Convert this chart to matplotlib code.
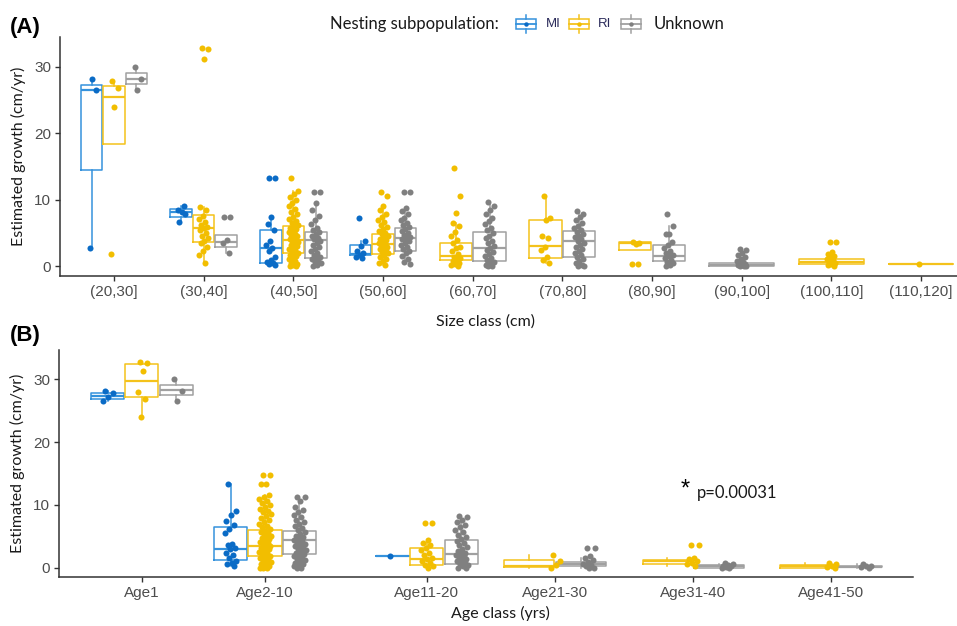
import numpy as np
import matplotlib.pyplot as plt
from matplotlib.patches import Rectangle

# ---- panel A: growth by size class ----
size_cats = ['(20,30]', '(30,40]', '(40,50]', '(50,60]', '(60,70]',
             '(70,80]', '(80,90]', '(90,100]', '(100,110]', '(110,120]']

a_mi_pts = [
    [2.7, 26.5, 28.2],
    [6.7, 7.8, 8.2, 8.5, 9.1],
    [13.2, 13.2, 7.4, 6.4, 5.4, 3.7, 3.2, 2.7, 2.2, 1.4, 0.9, 0.6, 0.4, 0.3, 0.2],
    [7.2, 3.7, 3.0, 2.2, 1.9, 1.6, 1.4, 1.2],
    [], [], [], [], [], [],
]
a_ri_pts = [
    [27.9, 26.8, 24.0, 1.8],
    [32.9, 32.7, 31.2, 8.9, 8.5, 7.6, 7.1, 6.6, 6.2, 5.9, 5.7, 5.4, 5.0, 4.6, 4.2,
     3.8, 3.4, 2.9, 2.3, 1.7, 0.4],
    [13.2, 11.3, 10.9, 10.4, 9.9, 9.5, 9.0, 8.6, 8.2, 7.8, 7.4, 7.1, 6.8, 6.5, 6.2,
     6.0, 5.8, 5.6, 5.3, 5.1, 4.9, 4.7, 4.5, 4.3, 4.1, 3.9, 3.8, 3.6, 3.4, 3.2, 3.0,
     2.8, 2.6, 2.4, 2.2, 2.0, 1.9, 1.7, 1.5, 1.2, 1.0, 0.8, 0.5, 0.3, 0.1, 0.0, 0.0],
    [11.2, 10.6, 9.0, 8.4, 7.9, 7.4, 7.0, 6.6, 6.2, 5.9, 5.6, 5.3, 5.0, 4.8, 4.6,
     4.3, 4.1, 3.9, 3.7, 3.5, 3.3, 3.1, 2.9, 2.7, 2.5, 2.3, 2.1, 1.9, 1.7, 1.4, 1.1,
     0.8, 0.5, 0.2],
    [14.7, 10.5, 8.0, 6.5, 6.0, 5.2, 4.6, 3.9, 3.5, 2.9, 2.7, 2.3, 1.8, 1.4, 1.2,
     1.0, 0.7, 0.5, 0.3, 0.1, 0.0],
    [10.55, 7.2, 7.0, 4.5, 4.2, 2.9, 2.4, 1.4, 0.9, 0.4],
    [3.6, 3.4, 3.3, 0.3, 0.3],
    [],
    [3.6, 3.6, 2.1, 1.8, 1.5, 1.3, 1.1, 0.9, 0.7, 0.5, 0.3, 0.1, 0.0],
    [0.3],
]
a_unk_pts = [
    [30.0, 28.2, 26.5],
    [7.4, 7.4, 3.9, 3.4, 2.0],
    [11.2, 11.2, 9.5, 8.4, 7.6, 6.9, 6.3, 5.8, 5.4, 5.1, 4.8, 4.5, 4.2, 4.0, 3.8,
     3.5, 3.2, 2.9, 2.6, 2.3, 2.0, 1.7, 1.4, 1.2, 1.0, 0.8, 0.6, 0.4, 0.2, 0.0],
    [11.2, 11.2, 8.8, 8.3, 7.8, 7.3, 6.9, 6.5, 6.2, 5.9, 5.6, 5.3, 5.0, 4.7, 4.4,
     4.2, 4.0, 3.7, 3.4, 3.1, 2.8, 2.5, 2.2, 1.9, 1.5, 1.0, 0.6, 0.3],
    [9.6, 9.1, 8.5, 7.9, 7.3, 6.8, 6.3, 5.8, 5.4, 5.0, 4.6, 4.2, 3.8, 3.4, 3.0,
     2.7, 2.4, 2.1, 1.8, 1.5, 1.2, 0.9, 0.6, 0.4, 0.2, 0.0, 0.0],
    [8.3, 7.9, 7.4, 6.9, 6.5, 6.1, 5.8, 5.5, 5.2, 4.9, 4.6, 4.3, 4.0, 3.7, 3.4,
     3.1, 2.8, 2.5, 2.2, 1.9, 1.6, 1.3, 1.0, 0.7, 0.4, 0.2, 0.0, 0.0],
    [7.9, 6.1, 4.8, 4.8, 3.6, 3.1, 2.7, 2.3, 2.0, 1.7, 1.5, 1.2, 0.9, 0.6, 0.4,
     0.2, 0.0],
    [2.5, 2.4, 2.0, 1.6, 1.3, 1.0, 0.8, 0.6, 0.4, 0.3, 0.2, 0.1, 0.0, 0.0, 0.0],
    [], [],
]

# box stats: (lower whisker, q1, median, q3, upper whisker)
a_mi_box = [(2.7, 14.5, 26.5, 27.3, 28.2), (6.7, 7.4, 8.2, 8.6, 9.1),
            (0.2, 0.5, 2.7, 5.4, 7.4), (1.2, 1.6, 1.8, 3.2, 3.7),
            None, None, None, None, None, None]
a_ri_box = [(18.4, 18.4, 25.5, 27.1, 27.9), (0.4, 3.6, 5.7, 7.7, 8.9),
            (0.0, 1.9, 3.9, 6.0, 11.3), (0.2, 1.8, 3.3, 4.8, 9.0),
            (0.0, 0.9, 1.5, 3.4, 6.5), (0.4, 1.15, 3.0, 7.0, 10.55),
            (2.4, 2.4, 3.4, 3.6, 3.6), None,
            (0.0, 0.25, 0.65, 1.05, 2.1), (0.3, 0.3, 0.3, 0.3, 0.3)]
a_unk_box = [(26.5, 27.4, 28.2, 29.1, 30.0), (2.0, 2.8, 3.6, 4.7, 4.7),
             (0.0, 1.2, 3.9, 5.1, 9.5), (0.3, 2.3, 4.2, 5.8, 8.8),
             (0.0, 0.75, 2.7, 5.1, 9.6), (0.0, 1.4, 3.8, 5.3, 8.3),
             (0.0, 0.75, 1.55, 3.1, 6.1), (0.0, 0.05, 0.2, 0.45, 1.0),
             None, None]

# ---- panel B: growth by age class ----
age_cats = ['Age1', 'Age2-10', 'Age11-20', 'Age21-30', 'Age31-40', 'Age41-50']

b_mi_pts = [
    [28.2, 27.8, 27.2, 26.5],
    [13.3, 9.1, 8.4, 7.4, 6.8, 6.1, 5.5, 3.8, 3.6, 3.1, 2.9, 2.4, 2.0, 1.5, 1.1,
     0.8, 0.5, 0.3],
    [1.9],
    [], [], [],
]
b_ri_pts = [
    [32.8, 32.7, 31.3, 28.0, 26.9, 24.0],
    [14.8, 14.8, 13.3, 13.3, 11.5, 11.2, 10.9, 10.6, 10.3, 10.0, 9.7, 9.4, 9.1,
     8.8, 8.5, 8.2, 7.9, 7.6, 7.3, 7.0, 6.7, 6.4, 6.1, 5.9, 5.7, 5.5, 5.3, 5.1,
     4.9, 4.7, 4.5, 4.3, 4.1, 3.9, 3.7, 3.5, 3.3, 3.1, 2.9, 2.7, 2.5, 2.3, 2.1,
     1.9, 1.7, 1.5, 1.3, 1.1, 0.9, 0.7, 0.5, 0.3, 0.1, 0.0, 0.0, 0.0],
    [7.1, 7.1, 4.4, 4.0, 3.6, 3.2, 2.8, 2.4, 2.0, 1.6, 1.3, 1.0, 0.7, 0.4, 0.2, 0.0],
    [2.0, 1.1, 0.4, 0.0],
    [3.6, 3.6, 1.6, 1.3, 1.0, 0.8, 0.5, 0.2],
    [0.7, 0.5, 0.3, 0.1, 0.0],
]
b_unk_pts = [
    [30.0, 28.2, 26.6],
    [11.2, 11.2, 10.6, 9.6, 9.2, 8.8, 8.4, 8.0, 7.6, 7.2, 6.9, 6.6, 6.3, 6.0, 5.7,
     5.4, 5.1, 4.8, 4.6, 4.4, 4.2, 4.0, 3.8, 3.6, 3.4, 3.2, 3.0, 2.8, 2.6, 2.4,
     2.2, 2.0, 1.8, 1.6, 1.4, 1.2, 1.0, 0.8, 0.6, 0.4, 0.2, 0.0, 0.0],
    [8.3, 8.0, 7.6, 7.2, 6.8, 6.4, 6.0, 5.6, 5.2, 4.8, 4.5, 4.2, 3.9, 3.6, 3.3,
     3.0, 2.7, 2.4, 2.2, 2.0, 1.8, 1.6, 1.4, 1.2, 1.0, 0.8, 0.6, 0.4, 0.2, 0.0, 0.0],
    [3.1, 3.1, 1.9, 1.6, 1.2, 0.9, 0.6, 0.4, 0.2, 0.0, 0.0],
    [0.7, 0.5, 0.4, 0.3, 0.2, 0.1, 0.0, 0.0],
    [0.5, 0.3, 0.2, 0.1, 0.0],
]

b_mi_box = [(26.5, 26.9, 27.4, 27.9, 28.2), (0.3, 1.2, 3.0, 6.55, 13.3),
            (1.9, 1.9, 1.9, 1.9, 1.9), None, None, None]
b_ri_box = [(24.0, 27.2, 29.7, 32.5, 32.8), (0.0, 1.9, 3.5, 6.0, 11.5),
            (0.0, 0.4, 1.3, 3.1, 4.4), (0.0, 0.16, 0.25, 1.2, 2.0),
            (0.2, 0.5, 1.1, 1.2, 1.6), (0.0, 0.0, 0.2, 0.45, 0.7)]
b_unk_box = [(26.6, 27.5, 28.3, 29.1, 30.0), (0.0, 2.1, 4.4, 5.9, 11.2),
             (0.0, 0.6, 2.2, 4.4, 8.3), (0.0, 0.27, 0.55, 0.85, 1.6),
             (0.0, 0.0, 0.2, 0.4, 0.6), (0.0, 0.05, 0.15, 0.25, 0.5)]

groups = ['MI', 'RI', 'Unknown']
box_cols = ['#3592DC', '#F4C21B', '#A0A0A0']
pt_cols = ['#0A6BC6', '#F2BE00', '#808080']

TXT = ['Lato', 'DejaVu Sans']
TICK = ['Liberation Sans', 'DejaVu Sans']


def draw_panel(ax, positions, pts, boxes, fixed_dodge, jw):
    for i, pos in enumerate(positions):
        present = [g for g in range(3) if boxes[g][i] is not None]
        n = len(present)
        w = 0.75 / n
        for j, g in enumerate(present):
            c = pos - 0.375 + w * (j + 0.5)
            lo, q1, med, q3, hi = boxes[g][i]
            st = dict(whislo=lo, q1=q1, med=med, q3=q3, whishi=hi, fliers=[])
            ax.bxp([st], positions=[c], widths=w * 0.96, showcaps=False,
                   showfliers=False, patch_artist=False,
                   boxprops=dict(color=box_cols[g], lw=1.1),
                   whiskerprops=dict(color=box_cols[g], lw=1.1),
                   medianprops=dict(color=box_cols[g], lw=1.6))
            # jittered points
            px = pos + (g - 1) * 0.25 if fixed_dodge else c
            vals = pts[g][i]
            k = np.arange(len(vals))
            off = ((k * 0.6180339 + 0.31) % 1 - 0.5) * 2 * jw
            ax.scatter(px + off, vals, s=19, color=pt_cols[g], lw=0, zorder=3)


def style_axes(ax, labels, positions, ylim, xlim):
    ax.set_xlim(*xlim)
    ax.set_ylim(*ylim)
    ax.set_xticks(positions)
    ax.set_xticklabels(labels, family=TICK, fontsize=11, color='#4D4D4D')
    ax.set_yticks([0, 10, 20, 30])
    ax.set_yticklabels(['0', '10', '20', '30'], family=TICK, fontsize=11,
                       color='#4D4D4D')
    for s in ['top', 'right']:
        ax.spines[s].set_visible(False)
    for s in ['left', 'bottom']:
        ax.spines[s].set_color('#333333')
        ax.spines[s].set_linewidth(1.1)
    ax.tick_params(length=3.5, width=1.0, color='#333333', pad=3)
    ax.set_ylabel('Estimated growth (cm/yr)', family=TXT, fontsize=11.5,
                  color='#1a1a1a', labelpad=6)


W, H = 957, 626
fig = plt.figure(figsize=(W / 100, H / 100), dpi=100)

axA = fig.add_axes([60 / W, 1 - 276 / H, (957 - 60) / W, (276 - 37) / H])
posA = np.arange(1, len(size_cats) + 1)
draw_panel(axA, posA, [a_mi_pts, a_ri_pts, a_unk_pts],
           [a_mi_box, a_ri_box, a_unk_box], False, 0.055)
style_axes(axA, size_cats, posA, (-1.5, 34.5), (0.398, 10.4))

axB = fig.add_axes([59 / W, 1 - 577 / H, (913 - 59) / W, (577 - 350) / H])
posB = [1, 1.893, 3.068, 3.997, 5.0, 6.0]
draw_panel(axB, posB, [b_mi_pts, b_ri_pts, b_unk_pts],
           [b_mi_box, b_ri_box, b_unk_box], True, 0.045)
style_axes(axB, age_cats, posB, (-1.5, 34.7), (0.398, 6.595))
axB.text(4.94, 12.4, '*', family=TICK, fontsize=17, ha='center', va='center')
axB.text(5.03, 11.9, 'p=0.00031', family=TXT, fontsize=12, ha='left',
         va='center', color='#1a1a1a')

# x labels and panel tags
fig.text(486 / W, 1 - 322 / H, 'Size class (cm)', family=TXT, fontsize=11.5,
         ha='center', va='center', color='#1a1a1a')
fig.text(500 / W, 1 - 613 / H, 'Age class (yrs)', family=TXT, fontsize=11.5,
         ha='center', va='center', color='#1a1a1a')
fig.text(10 / W, 1 - 27 / H, '(A)', family=TICK, fontsize=16, weight='bold',
         ha='left', va='center')
fig.text(10 / W, 1 - 336 / H, '(B)', family=TICK, fontsize=16, weight='bold',
         ha='left', va='center')

# legend drawn in a pixel-space overlay
lax = fig.add_axes([0, 0, 1, 1], zorder=-1)
lax.set_xlim(0, W)
lax.set_ylim(H, 0)
lax.axis('off')
lax.text(330, 24, 'Nesting subpopulation:', family=TXT, fontsize=12,
         ha='left', va='center', color='#1a1a1a')
key_x = [516, 569, 621]
lab_x = [546, 598, 654]
for g in range(3):
    x0 = key_x[g]
    lax.add_patch(Rectangle((x0, 19), 20, 10, fill=False, ec=box_cols[g], lw=1.1))
    lax.plot([x0, x0 + 20], [24, 24], color=box_cols[g], lw=1.3)
    lax.plot([x0 + 10, x0 + 10], [15, 19], color=box_cols[g], lw=1.1)
    lax.plot([x0 + 10, x0 + 10], [29, 33], color=box_cols[g], lw=1.1)
    lax.plot([x0 + 10], [24], 'o', ms=3.2, color=pt_cols[g], mew=0)
    lax.text(lab_x[g], 24, groups[g], family=TXT if g == 2 else TICK,
             fontsize=12 if g == 2 else 9.5, ha='left', va='center',
             color='#1a1a1a' if g == 2 else '#2a2a5a')

fig.savefig('out.png', dpi=100)
